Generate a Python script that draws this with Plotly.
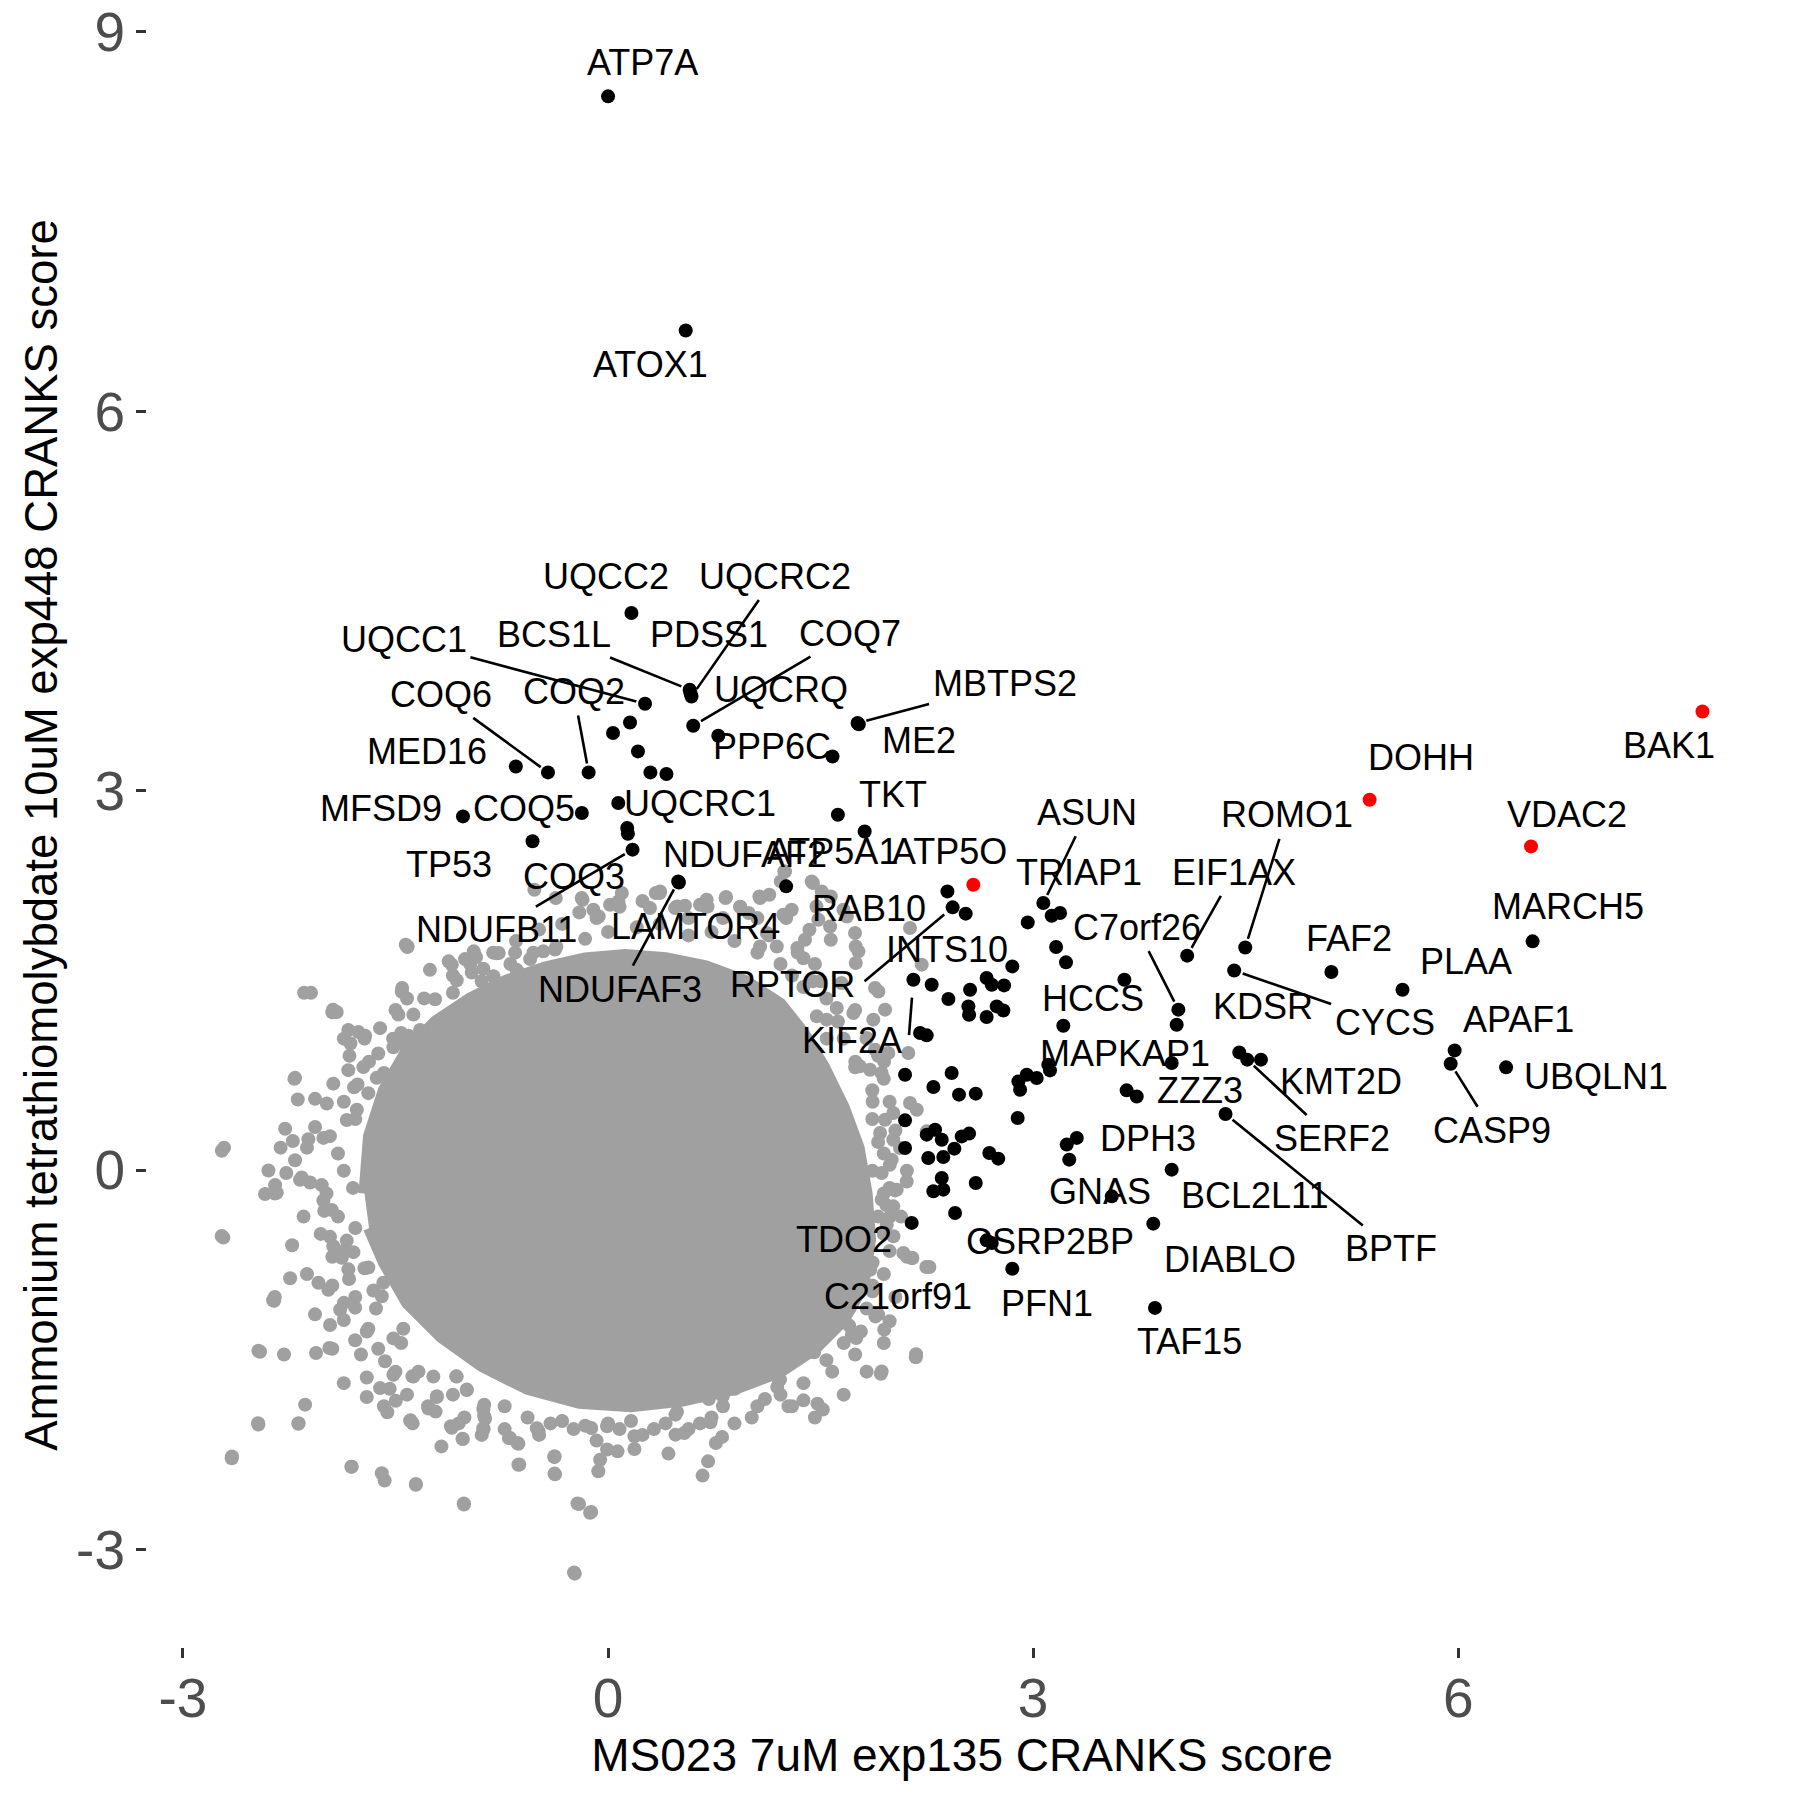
import math
import plotly.graph_objects as go

# ---------------- data ----------------
# outline of the fully saturated grey core of the background cloud (data units)
core_x = [-1.719, -1.687, -1.582, -1.419, -1.217, -0.973, -0.730, -0.446, -0.162, 0.122, 0.406, 0.689,
          0.973, 1.217, 1.379, 1.525, 1.663, 1.768, 1.825, 1.849, 1.800, 1.663, 1.460, 1.217, 0.892,
          0.527, 0.162, -0.203, -0.568, -0.892, -1.176, -1.419, -1.582, -1.687]
core_y = [-0.185, 0.269, 0.632, 0.949, 1.176, 1.357, 1.494, 1.603, 1.675, 1.702, 1.675, 1.612,
          1.494, 1.313, 1.086, 0.813, 0.496, 0.178, -0.185, -0.548, -0.912, -1.185, -1.412, -1.593, -1.730,
          -1.821, -1.866, -1.839, -1.730, -1.548, -1.321, -1.049, -0.730, -0.458]

# individually visible grey (non-hit) genes around the core
gray_x = [-2.096, -1.915, -1.416, -1.456, -2.209, -2.726, -2.279, -2.225, -2.115, -2.009, -2.397, -2.350,
          -2.421, -2.338, -2.209, -2.162, -2.103, -2.715, -2.244, -2.357, -2.044, -1.974, -2.456, -2.287,
          -2.061, -1.967, -2.138, -2.186, -2.468, -2.656, -1.809, -1.597, -1.357, -1.785, -1.703, -1.609,
          -1.498, -1.558, -1.574, -1.515, -1.397, -1.374, -1.268, -1.209, -1.103, -1.025, -0.880, -0.868,
          -0.692, -0.633, -0.633, -0.379, -0.374, -0.503,
          -1.833, -1.762, -1.715, -1.609, -1.818, -1.939, -2.068, -1.985, -1.833, -1.727, -1.793, -1.692,
          -1.515, -1.445, -1.633, -1.844, -1.773, -2.021, -1.950, -2.009, -1.962, -1.939, -1.879, -1.833,
          -1.828, -1.844, -1.797, -1.891, -1.962, -1.785, -1.692, -1.586, -1.656, -1.597, -1.692, -1.515,
          -1.445, -1.233, -1.068, -0.997, -0.880,
          -1.103, -1.009, -0.932, -0.786, -0.656, -0.880, -0.809, -1.068, -0.962, -1.221, -1.374, -1.480,
          -1.327, -1.409, -0.633, -0.550, -0.457, -0.374,
          -1.356, -1.017, -0.205, -0.119, -0.235, -1.394, -1.109, -1.027, -0.626, -0.378, -0.378, -0.069,
          -0.056, -0.007, 0.067, -0.700, -0.639, -0.490, -0.119, -0.007, 0.186, 0.186, 0.426, 0.476,
          0.538, 0.476, 0.706, 0.667, 0.723, 0.761, 0.805, 0.711, 0.810, 0.600, 0.753, 0.929, 1.107,
          1.194, 1.206, 1.273, 1.478, 1.516, 1.083, 1.925, 2.172, 1.751, 1.702, 1.887, 1.949, 1.987,
          1.474, 1.454, 1.380, 2.246, 2.148, 1.850, 1.776, -0.874, -0.874, -0.879, -1.270, -1.208,
          -1.072, -0.997, -1.381, 2.268, 2.025, 1.990, 1.967, 2.143, 2.084, 1.214, 2.014,
          1.249, 1.219, 1.437, 1.508, 1.073, 1.138, 0.833, 0.932, 0.696, 0.649, 0.543, 0.473, 0.367,
          0.296, -0.186, -0.104, 0.014, 0.073, 1.296, 1.237, 1.484, 1.567, 1.743, 1.767, 1.661, 2.131,
          2.214, 1.390, 1.336, 1.120, 1.191, 1.073, 1.908, 1.884, 1.955, 1.614, 1.731, 1.473, 1.543,
          1.872, 1.826, 1.884, 1.978, 2.119, 1.931, 1.849, 1.778, 2.131, 2.179, 2.013, 1.955, 1.920,
          2.013, 2.061, 2.249, 1.931, 2.002, 2.037, 2.108, 1.931, 2.013,
          -0.520, -0.369, -0.180, -0.066, 0.097, 0.337, 0.487, 0.702, 0.829, 1.068, 1.244, 1.446, 1.471,
          1.685, 1.748, -1.428, -1.453, -1.125, -0.948, -0.772, -0.646, 1.572, 0.992, 1.421, 1.572,
          1.748, 1.647,
          -1.941, -1.415, -2.145, -2.710, -2.727, -2.364, -2.468, -2.654, -2.470, -2.184, -1.812, -1.577,
          -1.018, -0.240, -0.216, -0.127,
          1.446, 1.543, 1.745, 1.948, 1.867, 1.988, 1.964, 1.867, 1.867, 1.704, 1.526, 1.340, 1.218,
          0.975, 0.732, 0.894, 0.554, 0.368, 1.931, 2.174, 1.721]
gray_y = [1.402, 1.251, 1.769, 1.411, 0.730, 0.154, 0.327, 0.230, 0.245, 0.255, -0.003, -0.118,
          -0.188, -0.179, 0.079, -0.058, -0.097, -0.533, -0.854, -1.032, -0.890, -0.945, -1.436, -1.457,
          -1.445, -1.406, -1.854, -2.005, -2.011, -2.278, -2.344, -2.396, -2.487, -1.345, -1.793, -1.723,
          -1.823, -1.914, -1.511, -1.617, -1.981, -1.632, -1.884, -1.793, -2.036, -2.126, -2.041, -1.965,
          -2.117, -2.163, -2.329, -2.269, -2.405, -2.041,
          1.108, 1.093, 1.063, 1.123, 1.002, 0.684, 0.564, 0.527, 0.791, 0.815, 0.655, 0.609,
          0.972, 1.002, 0.730, 0.397, 0.478, -0.118, -0.315, -0.240, -0.527, -0.602, -0.693, -0.784,
          -0.860, -0.557, -0.648, -1.103, -1.224, -1.087, -0.769, -0.890, -0.951, -0.997, -1.254, -1.330,
          -1.254, -1.632, -1.632, -1.738, -1.890,
          1.624, 1.669, 1.684, 1.715, 1.720, 1.593, 1.533, 1.502, 1.563, 1.351, 1.230, 1.230,
          1.108, 1.063, 1.563, 1.669, 1.730, 1.745,
          -2.481, -2.644, -2.639, -2.702, -3.190, -1.978, -2.025, -2.123, -2.328, -2.262, -2.399, -2.381,
          -2.289, -2.209, -2.223, -2.117, -2.157, -2.065, -2.038, -2.025, -2.104, -2.204, -2.241, -2.091,
          -2.078, -1.933, -2.302, -2.415, -1.994, -2.157, -2.109, -1.809, -1.788, -1.704, -1.688, -1.690, -1.809,
          -1.714, -1.662, -1.867, -1.846, -1.893, -1.564, -1.609, -1.480, -1.327, -1.229, -1.156, -1.261, -1.195,
          -1.327, -1.440, -1.406, -0.765, -0.694, -0.787, -0.681, -1.854, -1.946, -2.051, -1.867, -1.788,
          -1.630, -1.735, -1.630, -0.765, -0.160, -0.365, -0.431, -0.694, -0.655, -1.656, -0.523,
          2.362, 2.283, 2.283, 2.204, 2.152, 2.178, 2.160, 2.081, 2.138, 2.099, 2.091, 2.073, 2.204,
          2.073, 2.152, 2.059, 2.099, 2.125, 2.059, 2.020, 1.980, 1.927, 1.875, 1.730, 2.059, 1.915,
          1.625, 1.822, 1.757, 1.875, 1.769, 1.769, 1.413, 1.440, 1.269, 1.282, 1.243, 1.216, 1.190,
          1.190, 1.045, 0.953, 0.926, 0.926, 0.768, 0.794, 0.821, 0.531, 0.478, 0.452, 0.399, 0.294,
          0.241, 0.175, 0.307, -0.022, 0.083, -0.154, -0.089, -0.233, -0.286,
          2.217, 2.152, 2.138, 2.006, 2.191, 2.191, 2.085, 2.085, 2.152, 2.164, 2.362, 2.270, 2.085,
          2.006, 1.769, 1.783, 1.440, 1.651, 1.730, 1.717, 1.585, 2.164, 2.033, 1.901, 1.822,
          1.638, 1.480,
          1.269, 1.767, 1.403, 0.178, -0.521, -1.029, -1.428, -2.263, -2.000, -2.000, -2.345, -2.454,
          -2.636, -3.180, -2.636, -2.708,
          1.494, 1.040, 0.858, 0.858, 0.541, 0.042, -0.276, -0.730, -0.957, -1.093, -1.165, -1.274, -1.410,
          -1.437, -1.546, -1.728, -1.728, -1.801, -1.592, -1.455, -1.301]

# grey genes in the crowded fringe of the core
edge_x = [-2.214, -2.190, -1.946, -1.865, -1.719, -1.825, -1.622, -1.500, -1.419, -1.517, -2.068, -1.963,
          -2.125, -1.865, -1.768, -2.311, -2.271, -2.174, -1.987, -1.906, -1.865, -2.352, -2.149, -2.028,
          -1.865, -2.230, -2.125, -1.946, -1.784, -2.352, -2.068, -1.865, -1.703, -1.622, -1.946, -1.500,
          -1.703, -1.865, -1.419, -1.582, -1.217, -1.379, -1.054, -0.892, -1.176,
          -1.419, -1.257, -1.095, -0.973, -0.811, -0.649, -0.487, -0.324, -0.203, -0.081, 0.081, 0.243,
          0.365, 0.487, 0.568, 0.689, 0.811, 0.933, 1.054, 1.135, 1.257, 1.338, 1.460, 1.379, 1.541,
          1.622, 1.744, 1.825, 1.906, 1.946,
          1.987, 1.865, 2.028, 1.946, 2.109, 1.987, 2.068, 1.946, 2.109, 1.946, 2.028, 1.906, 1.784,
          1.946, 1.744, 1.582, 1.825, 1.379, 1.663, 1.298, 1.460, 1.054, 0.892, 0.730, 0.568, 0.406,
          0.243, 0.081, -0.081, -0.243, -0.406, -0.568, -0.730,
          -1.687, -1.784, -1.906, -1.800, -2.003, -1.784, -1.946, -1.719, -1.865, -1.638, -1.744, -1.460,
          -1.541, -1.338, -1.095, -1.014, -0.730, -0.487, -1.460, -1.582, -1.298, -1.095,
          -0.892, -0.689, -0.527, -0.365, -0.162, 0.000, 0.203, 0.365, 0.568, 0.730, 0.892, 1.054,
          1.217, 1.379, 1.500, 1.298,
          1.663, 1.744, 1.865, 1.906, 1.865, 1.946, 1.906, 1.987, 1.865, 1.825, 1.663, 1.541, 1.379,
          1.217, 1.014, 0.811, 0.649, 0.487, 0.324, 0.162, 0.000, -0.162, -0.324]
edge_y = [0.722, 0.559, 1.249, 1.040, 1.040, 0.904, 0.922, 1.267, 1.357, 1.040, 0.341, 0.269,
          0.178, 0.541, 0.677, 0.178, -0.022, -0.076, -0.185, -0.367, -0.004, -0.185, -0.367, -0.504,
          -0.640, -0.594, -0.821, -0.912, -1.003, -1.003, -1.140, -1.185, -1.276, -1.412, -1.412, -1.593,
          -1.639, -1.684, -1.775, -1.866, -1.909, -2.002, -2.002, -2.093, -2.184,
          1.766, 1.584, 1.539, 1.630, 1.720, 1.811, 1.902, 1.947, 2.038, 1.993, 2.083, 2.128,
          2.192, 2.083, 1.993, 2.083, 1.993, 2.083, 1.993, 1.856, 1.993, 1.720, 1.630, 1.448, 1.357,
          1.176, 1.267, 1.040, 0.904, 0.722,
          0.541, 0.405, 0.314, 0.132, -0.004, -0.140, -0.367, -0.504, -0.685, -0.821, -1.003, -1.140, -1.276,
          -1.366, -1.457, -1.593, -1.593, -1.684, -1.775, -1.866, -1.956, -1.866, -2.002, -1.956, -2.047, -2.002,
          -2.093, -2.047, -2.138, -2.047, -2.002, -1.956, -1.866,
          0.858, 0.405, 0.132, -0.140, -0.322, -0.457, -0.685, -0.776, -1.049, -1.094, -1.457, -1.366,
          -1.729, -1.593, -1.775, -1.956, -2.047, -2.093, 1.085, 0.768, 1.358, 1.403,
          1.494, 1.630, 1.720, 1.766, 1.829, 1.884, 1.920, 1.947, 1.856, 1.884, 1.811, 1.720,
          1.630, 1.675, 1.494, 1.539,
          1.040, 0.813, 0.632, 0.223, -0.004, -0.185, -0.367, -0.640, -0.912, -1.094, -1.366, -1.502, -1.820,
          -1.775, -1.956, -1.866, -2.002, -1.911, -2.047, -1.983, -2.002, -2.020, -1.983]

# hits (black) with gene names ("" = unlabelled hit)
black_x = [0.000, 0.548, 0.165, 0.261, 0.155, 0.035, 0.576, 0.589, 0.582, 0.601, 0.778, 1.584, 1.761,
           1.770, 0.211, 0.299, 0.412, -0.651, -0.424, -0.137, -1.024, -0.185, 0.072, -0.533, 0.135,
           0.140, 0.173, 0.495, 0.500, 1.257, 1.622, 1.811, 2.395, 2.432, 2.524, 3.072, 3.131, 3.190,
           2.962, 3.162, 3.232, 2.853, 2.155, 2.284, 2.555, 2.672, 2.708, 2.795, 2.402, 2.543, 2.548,
           2.672, 2.743, 2.790, 2.202, 2.249, 3.213, 3.644, 4.025, 4.013, 4.087, 4.497, 4.419, 3.978,
           4.455, 4.511, 4.608, 3.660, 3.731, 4.358, 2.096, 2.425, 2.296, 2.477, 2.595, 2.896, 2.955,
           3.025, 3.107, 3.119, 2.908, 2.891, 2.096, 2.308, 2.355, 2.249, 2.496, 2.548, 2.096, 2.260,
           2.366, 2.444, 2.691, 2.754, 3.255, 3.237, 3.308, 3.978, 3.555, 2.296, 2.366, 2.355, 2.595,
           2.449, 2.143, 2.672, 2.708, 2.853, 3.848, 3.860, 6.525, 5.105, 5.607, 5.975, 5.947, 6.338]
black_y = [8.490, 6.639, 4.405, 3.688, 3.540, 3.456, 3.798, 3.745, 3.770, 3.514, 3.435, 3.271, 3.535,
           3.525, 3.311, 3.145, 3.132, 3.192, 3.145, 3.145, 2.797, 2.824, 2.903, 2.600, 2.705,
           2.660, 2.534, 2.283, 2.275, 2.244, 2.810, 2.678, 2.204, 2.078, 2.028, 2.112, 2.012, 2.033,
           1.959, 1.764, 1.643, 1.611, 1.506, 1.466, 1.427, 1.519, 1.466, 1.461, 1.353, 1.295, 1.229,
           1.211, 1.295, 1.263, 1.085, 1.066, 1.142, 1.506, 1.269, 1.150, 1.696, 1.761, 1.579, 0.847,
           0.931, 0.874, 0.874, 0.631, 0.583, 0.444, 0.755, 0.768, 0.658, 0.597, 0.605, 0.702, 0.755,
           0.729, 0.834, 0.789, 0.636, 0.413, 0.394, 0.320, 0.241, 0.281, 0.267, 0.289, 0.175, 0.096,
           0.104, 0.170, 0.136, 0.091, 0.083, 0.202, 0.255, 0.004, -0.207, -0.167, -0.154, -0.062, -0.101,
           -0.339, -0.417, -0.555, -0.576, -0.779, -0.423, -1.089, 1.809, 1.567, 1.427, 0.947, 0.842, 0.813]
black_gene = ["ATP7A", "ATOX1", "UQCC2", "UQCC1", "", "", "BCS1L", "UQCRC2", "PDSS1", "COQ7", "UQCRQ",
              "PPP6C", "MBTPS2", "ME2", "", "", "", "MED16", "COQ6", "COQ2", "MFSD9", "COQ5", "UQCRC1",
              "TP53", "", "COQ3", "NDUFB11", "NDUFAF3", "LAMTOR4", "NDUFAF2", "ATP5A1", "TKT", "RAB10",
              "RPTOR", "", "ASUN", "", "TRIAP1", "", "", "", "", "KIF2A", "INTS10", "", "", "", "", "",
              "", "", "", "", "", "", "", "HCCS", "", "C7orf26", "", "EIF1AX", "ROMO1", "CYCS",
              "MAPKAP1", "KDSR", "SERF2", "KMT2D", "", "ZZZ3", "BPTF", "", "", "", "", "", "", "",
              "", "", "", "", "", "", "", "", "", "", "", "", "",
              "", "", "", "", "", "", "DPH3", "BCL2L11", "GNAS", "", "", "", "",
              "C21orf91", "TDO2", "", "CSRP2BP", "PFN1", "DIABLO", "TAF15", "MARCH5", "FAF2", "PLAA",
              "APAF1", "CASP9", "UBQLN1"]

# highlighted genes (red)
red_x = [7.724, 5.375, 6.514, 2.578]
red_y = [3.627, 2.929, 2.560, 2.257]
red_gene = ["BAK1", "DOHH", "VDAC2", "ATP5O"]

x_ticks = [-3, 0, 3, 6]
y_ticks = [-3, 0, 3, 6, 9]
x_title = "MS023 7uM exp135 CRANKS score"
y_title = "Ammonium tetrathiomolybdate 10uM exp448 CRANKS score"

# ---------------- label placement (repelled positions, data units; True = leader segment) ----------------
label_place = {
    "ATP7A": (0.246, 8.755, False), "ATOX1": (0.296, 6.368, False),
    "UQCC2": (-0.016, 4.694, False), "UQCRC2": (1.181, 4.694, True),
    "UQCC1": (-1.440, 4.194, True), "BCS1L": (-0.382, 4.233, True),
    "PDSS1": (0.715, 4.233, False), "COQ7": (1.704, 4.243, True),
    "COQ6": (-1.176, 3.759, True), "COQ2": (-0.243, 3.785, True),
    "UQCRQ": (1.219, 3.798, False), "MBTPS2": (2.798, 3.844, True),
    "MED16": (-1.277, 3.311, False), "PPP6C": (1.156, 3.350, False),
    "ME2": (2.191, 3.399, False), "MFSD9": (-1.604, 2.863, False),
    "COQ5": (-0.596, 2.863, False), "UQCRC1": (0.652, 2.903, False),
    "TKT": (2.012, 2.973, False), "TP53": (-1.125, 2.415, False),
    "COQ3": (-0.243, 2.323, False), "NDUFAF2": (0.967, 2.494, False),
    "ATP5A1": (1.583, 2.519, False), "ATP5O": (2.409, 2.519, False),
    "NDUFB11": (-0.785, 1.901, True), "LAMTOR4": (0.614, 1.928, False),
    "NDUFAF3": (0.085, 1.430, True), "RAB10": (1.842, 2.066, False),
    "INTS10": (2.393, 1.748, False), "RPTOR": (1.299, 1.466, True),
    "KIF2A": (1.721, 1.022, True), "ASUN": (3.382, 2.828, True),
    "TRIAP1": (3.325, 2.356, False), "ROMO1": (4.791, 2.809, True),
    "EIF1AX": (4.419, 2.356, True), "C7orf26": (3.730, 1.920, True),
    "HCCS": (3.422, 1.357, False), "KDSR": (4.621, 1.294, False),
    "CYCS": (5.480, 1.167, True), "FAF2": (5.229, 1.829, False),
    "PLAA": (6.055, 1.648, False), "MARCH5": (6.776, 2.084, False),
    "DOHH": (5.739, 3.263, False), "BAK1": (7.489, 3.354, False),
    "VDAC2": (6.768, 2.809, False), "APAF1": (6.428, 1.194, False),
    "UBQLN1": (6.970, 0.741, False), "CASP9": (6.241, 0.314, True),
    "KMT2D": (5.172, 0.704, False), "MAPKAP1": (3.649, 0.922, False),
    "ZZZ3": (4.176, 0.632, False), "SERF2": (5.107, 0.251, True),
    "DPH3": (3.811, 0.251, False), "GNAS": (3.471, -0.167, False),
    "BCL2L11": (4.565, -0.203, False), "BPTF": (5.529, -0.621, True),
    "DIABLO": (4.386, -0.703, False), "TAF15": (4.102, -1.356, False),
    "PFN1": (3.098, -1.056, False), "CSRP2BP": (3.122, -0.566, False),
    "TDO2": (1.664, -0.548, False), "C21orf91": (2.044, -1.002, False),
}
# leader segments whose start does not sit on the line towards the label centre (start, padding px)
segment_start = {"KIF2A": ((2.124, 1.067), 18), "RPTOR": ((1.810, 1.494), 11)}

GREY = "#A0A0A0"
FONT = "Liberation Sans, Arial, Helvetica, sans-serif"
PT = 14
LABEL_SIZE = 36
X_RANGE = [-3.254, 8.25]
Y_RANGE = [-3.77, 9.07]
MARGIN = dict(l=139, r=31, t=15, b=161)
W = H = 1800
px_x = (W - MARGIN["l"] - MARGIN["r"]) / (X_RANGE[1] - X_RANGE[0])
px_y = (H - MARGIN["t"] - MARGIN["b"]) / (Y_RANGE[1] - Y_RANGE[0])

fig = go.Figure()
fig.add_trace(go.Scatter(x=core_x, y=core_y, mode="lines", fill="toself", fillcolor=GREY,
                         line=dict(color=GREY, width=12), hoverinfo="skip", showlegend=False))
for xs, ys in ((gray_x, gray_y), (edge_x, edge_y)):
    fig.add_trace(go.Scatter(x=xs, y=ys, mode="markers",
                             marker=dict(color=GREY, size=PT, line=dict(width=0)),
                             hoverinfo="skip", showlegend=False))
fig.add_trace(go.Scatter(x=black_x, y=black_y, mode="markers", text=black_gene,
                         marker=dict(color="black", size=PT, line=dict(width=0)),
                         hoverinfo="text", showlegend=False))
fig.add_trace(go.Scatter(x=red_x, y=red_y, mode="markers", text=red_gene,
                         marker=dict(color="#FF0000", size=PT, line=dict(width=0)),
                         hoverinfo="text", showlegend=False))

points = {}
for gx, gy, g in zip(black_x, black_y, black_gene):
    if g:
        points[g] = (gx, gy)
for gx, gy, g in zip(red_x, red_y, red_gene):
    points[g] = (gx, gy)

annotations = []
shapes = []
for gene, (lx, ly, seg) in label_place.items():
    px, py = points[gene]
    if seg and gene in segment_start:
        (sx, sy), pad = segment_start[gene]
        dx, dy = (px - sx) * px_x, (py - sy) * px_y
        frac = 1 - pad / math.hypot(dx, dy)
        shapes.append(dict(type="line", xref="x", yref="y", x0=sx, y0=sy,
                           x1=sx + (px - sx) * frac, y1=sy + (py - sy) * frac,
                           line=dict(color="black", width=2.6)))
        annotations.append(dict(x=lx, y=ly, xref="x", yref="y", text=gene, showarrow=False,
                                font=dict(family=FONT, size=LABEL_SIZE, color="black")))
    elif seg:
        annotations.append(dict(x=px, y=py, xref="x", yref="y", ax=lx, ay=ly, axref="x", ayref="y",
                                text=gene, showarrow=True, arrowhead=0, arrowwidth=2.6,
                                arrowcolor="black", standoff=9, startstandoff=2,
                                font=dict(family=FONT, size=LABEL_SIZE, color="black")))
    else:
        annotations.append(dict(x=lx, y=ly, xref="x", yref="y", text=gene, showarrow=False,
                                font=dict(family=FONT, size=LABEL_SIZE, color="black")))

# the page body adds an 8px offset; margins compensate so the panel sits where the reference has it
fig.update_layout(
    width=W, height=H,
    margin=dict(**MARGIN, autoexpand=False),
    paper_bgcolor="white", plot_bgcolor="white",
    annotations=annotations, shapes=shapes,
    showlegend=False,
)
fig.update_xaxes(range=X_RANGE, tickvals=x_ticks, ticktext=[str(v) for v in x_ticks],
                 showgrid=False, zeroline=False, showline=False,
                 ticks="outside", ticklen=10, tickwidth=3, tickcolor="#333333",
                 tickfont=dict(family=FONT, size=55, color="#4D4D4D"), ticklabelstandoff=-7,
                 ticklabeloverflow="allow",
                 title=dict(text=x_title, font=dict(family=FONT, size=46, color="black"), standoff=9),
                 automargin=False)
fig.update_yaxes(range=Y_RANGE, tickvals=y_ticks, ticktext=[str(v) for v in y_ticks],
                 showgrid=False, zeroline=False, showline=False,
                 ticks="outside", ticklen=10, tickwidth=3, tickcolor="#333333",
                 tickfont=dict(family=FONT, size=55, color="#4D4D4D"),
                 ticklabeloverflow="allow",
                 title=dict(text=y_title, font=dict(family=FONT, size=45.5, color="black"), standoff=4),
                 automargin=False)

fig.write_html("out.html")
